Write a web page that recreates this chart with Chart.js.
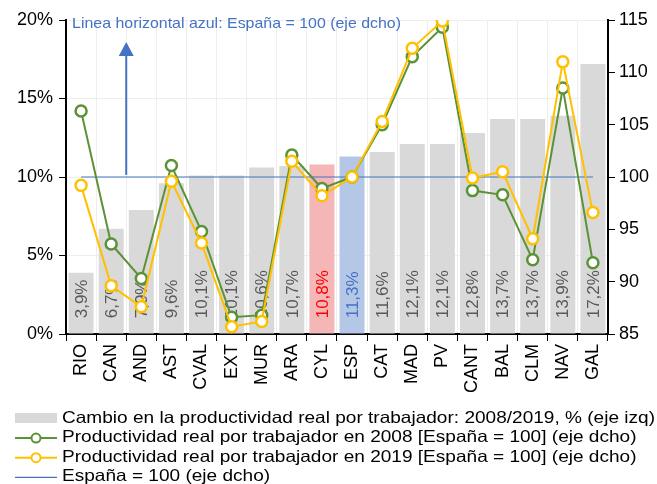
<!DOCTYPE html>
<html>
<head>
<meta charset="utf-8">
<script src="https://cdn.jsdelivr.net/npm/chart.js@4.4.0/dist/chart.umd.min.js"></script>
<style>
  html, body { margin: 0; padding: 0; background: #fff; }
</style>
</head>
<body>
<canvas id="myChart" width="657" height="484"></canvas>
<script>
// datos
const regiones = ['RIO', 'CAN', 'AND', 'AST', 'CVAL', 'EXT', 'MUR', 'ARA', 'CYL', 'ESP',
  'CAT', 'MAD', 'PV', 'CANT', 'BAL', 'CLM', 'NAV', 'GAL'];
const cambioProd = [3.9, 6.7, 7.9, 9.6, 10.1, 10.1, 10.6, 10.7, 10.8, 11.3,
  11.6, 12.1, 12.1, 12.8, 13.7, 13.7, 13.9, 17.2];
const prod2008 = [106.3, 93.6, 90.3, 101.1, 94.8, 86.6, 86.8, 102.1, 98.9, 100,
  105.0, 111.5, 114.3, 98.7, 98.3, 92.1, 108.5, 91.8];
const prod2019 = [99.2, 89.6, 87.6, 99.6, 93.7, 85.7, 86.2, 101.5, 98.2, 100,
  105.3, 112.3, 114.9, 99.9, 100.5, 94.1, 111.0, 96.6];
const espana = regiones.map(() => 100);
const leftTicks = [0, 5, 10, 15, 20];
const rightTicks = [85, 90, 95, 100, 105, 110, 115];

const GRIS = '#d9d9d9';
const VERDE = '#5b9236';
const AMARILLO = '#ffc000';
const AZUL = '#4472c4';
const FONT = "'Liberation Sans', Arial, sans-serif";

const barColors = regiones.map(r => r === 'CYL' ? '#f4b6b6' : (r === 'ESP' ? '#b4c7e7' : GRIS));
const labelColors = regiones.map(r => r === 'CYL' ? '#ff0000' : (r === 'ESP' ? '#4472c4' : '#595959'));

function fmtPct(v) {
  return v.toFixed(1).replace('.', ',') + '%';
}

// texto algo ensanchado, como en el original
function wideText(ctx, text, x, y, width) {
  const w = ctx.measureText(text).width;
  ctx.save();
  ctx.translate(x, y);
  ctx.scale(width / w, 1);
  ctx.fillText(text, 0, 0);
  ctx.restore();
}

// etiquetas de las barras, se pintan antes que las lineas
const barLabels = {
  id: 'barLabels',
  afterDatasetDraw(chart, args) {
    if (args.index !== 0) return;
    const ctx = chart.ctx;
    const y = chart.scales.y.getPixelForValue(1);
    ctx.save();
    ctx.font = '17px ' + FONT;
    ctx.textAlign = 'left';
    ctx.textBaseline = 'middle';
    args.meta.data.forEach((bar, i) => {
      ctx.save();
      ctx.translate(bar.x + 1, y);
      ctx.rotate(-Math.PI / 2);
      ctx.fillStyle = labelColors[i];
      ctx.fillText(fmtPct(cambioProd[i]), 0, 0);
      ctx.restore();
    });
    ctx.restore();
  }
};

// nota y flecha azul
const nota = {
  id: 'nota',
  afterDraw(chart) {
    const ctx = chart.ctx;
    const x = chart.scales.x;
    const y1 = chart.scales.y1;
    ctx.save();
    ctx.fillStyle = AZUL;
    ctx.font = '14.5px ' + FONT;
    ctx.textBaseline = 'middle';
    wideText(ctx, 'Linea horizontal azul: España = 100 (eje dcho)', chart.chartArea.left + 6, chart.chartArea.top + 4, 329);
    const ax = x.getPixelForValue(1.5);
    const yBot = y1.getPixelForValue(100.2);
    const yTop = y1.getPixelForValue(112.9);
    ctx.strokeStyle = AZUL;
    ctx.lineWidth = 2;
    ctx.beginPath(); ctx.moveTo(ax, yBot); ctx.lineTo(ax, yTop + 12); ctx.stroke();
    ctx.beginPath();
    ctx.moveTo(ax, yTop); ctx.lineTo(ax - 7.5, yTop + 14); ctx.lineTo(ax + 7.5, yTop + 14);
    ctx.closePath(); ctx.fill();
    ctx.restore();
  }
};

// leyenda abajo, una serie por fila
const leyenda = {
  id: 'leyenda',
  afterDraw(chart) {
    const ctx = chart.ctx;
    const top = chart.scales.x.bottom;
    ctx.save();
    ctx.font = '16.5px ' + FONT;
    ctx.textBaseline = 'middle';
    const scale = 593 / ctx.measureText(chart.data.datasets[0].label).width;
    chart.data.datasets.forEach((ds, i) => {
      const cy = top + 22 + i * 19.6;
      const x0 = 15, x1 = 57;
      if (ds.type === 'bar') {
        ctx.fillStyle = GRIS;
        ctx.fillRect(x0, cy - 5, x1 - x0, 10);
      } else {
        ctx.strokeStyle = ds.borderColor;
        ctx.lineWidth = ds.borderWidth;
        ctx.beginPath(); ctx.moveTo(x0, cy + 0.5); ctx.lineTo(x1, cy + 0.5); ctx.stroke();
        if (ds.pointRadius > 0) {
          ctx.beginPath(); ctx.arc((x0 + x1) / 2, cy + 0.5, 4.5, 0, Math.PI * 2);
          ctx.fillStyle = '#fff'; ctx.fill(); ctx.stroke();
        }
      }
      ctx.fillStyle = '#000';
      wideText(ctx, ds.label, 62, cy, ctx.measureText(ds.label).width * scale);
    });
    ctx.restore();
  }
};

const ctx = document.getElementById('myChart').getContext('2d');
new Chart(ctx, {
  type: 'bar',
  data: {
    labels: regiones,
    datasets: [{
      type: 'bar',
      label: 'Cambio en la productividad real por trabajador: 2008/2019, % (eje izq)',
      data: cambioProd,
      backgroundColor: barColors,
      yAxisID: 'y',
      barPercentage: 0.83,
      categoryPercentage: 1,
      order: 4
    }, {
      type: 'line',
      label: 'Productividad real por trabajador en 2008 [España = 100] (eje dcho)',
      data: prod2008,
      borderColor: VERDE,
      borderWidth: 2,
      pointRadius: 5.5,
      pointBorderWidth: 2.5,
      pointBackgroundColor: '#fff',
      pointBorderColor: VERDE,
      yAxisID: 'y1',
      order: 2
    }, {
      type: 'line',
      label: 'Productividad real por trabajador en 2019 [España = 100] (eje dcho)',
      data: prod2019,
      borderColor: AMARILLO,
      borderWidth: 2,
      pointRadius: 5.5,
      pointBorderWidth: 2.5,
      pointBackgroundColor: '#fff',
      pointBorderColor: AMARILLO,
      yAxisID: 'y1',
      order: 1
    }, {
      type: 'line',
      label: 'España = 100 (eje dcho)',
      data: espana,
      borderColor: AZUL,
      borderWidth: 1.2,
      pointRadius: 0,
      yAxisID: 'y1',
      order: 3
    }]
  },
  options: {
    responsive: false,
    animation: false,
    layout: { padding: { left: 11, right: 4, top: 20, bottom: 88 } },
    scales: {
      x: {
        grid: { color: '#eeeeee', tickColor: '#000', tickLength: 7, offset: true },
        border: { color: '#000', width: 2 },
        ticks: { color: '#000', font: { family: FONT, size: 18 }, minRotation: 90, maxRotation: 90, autoSkip: false, padding: 3 }
      },
      y: {
        position: 'left',
        min: 0, max: 20,
        afterBuildTicks: axis => { axis.ticks = leftTicks.map(v => ({ value: v })); },
        grid: { color: '#eeeeee', tickColor: '#000', tickLength: 7 },
        border: { color: '#000', width: 2 },
        ticks: { color: '#000', font: { family: FONT, size: 18 }, padding: 6, callback: v => v + '%' }
      },
      y1: {
        position: 'right',
        min: 85, max: 115,
        afterBuildTicks: axis => { axis.ticks = rightTicks.map(v => ({ value: v })); },
        grid: { drawOnChartArea: false, tickColor: '#000', tickLength: 7 },
        border: { color: '#000', width: 2 },
        ticks: { color: '#000', font: { family: FONT, size: 18 }, padding: 4 }
      }
    },
    plugins: {
      tooltip: { enabled: false },
      legend: { display: false }
    }
  },
  plugins: [barLabels, nota, leyenda]
});
</script>
</body>
</html>
